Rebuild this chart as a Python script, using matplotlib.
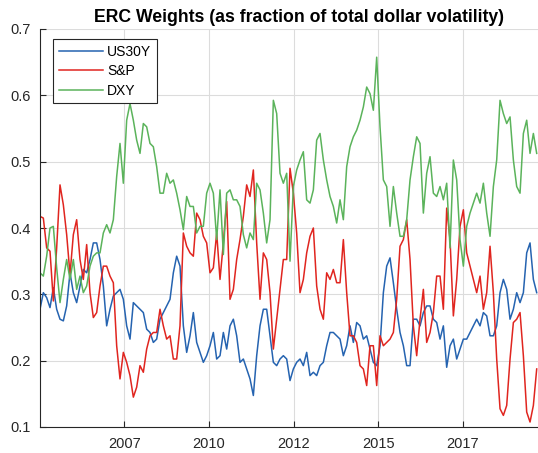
import numpy as np
import pandas as pd
import matplotlib
matplotlib.use('Agg')
import matplotlib.pyplot as plt
import matplotlib.dates as mdates

plt.rcParams['font.family'] = ['Liberation Sans', 'DejaVu Sans']

# sampling dates (roughly every 36 days)
dates = pd.date_range('2005-02-01', periods=150, freq='36D')

us30y = [0.2775, 0.3025, 0.295, 0.28, 0.31, 0.2775, 0.2625, 0.26, 0.2825, 0.3325, 0.3025,
         0.2875, 0.3125, 0.3375, 0.3325, 0.3525, 0.3775, 0.3775, 0.3525, 0.3125, 0.2525, 0.2775, 0.2975, 0.3025, 0.3075, 0.2925, 0.2525,
         0.2325, 0.2875, 0.2825, 0.2775, 0.2725, 0.2475, 0.2425, 0.2275, 0.2325, 0.2625, 0.2725, 0.2825, 0.2925, 0.3325, 0.3575, 0.3425, 0.2525, 0.2125, 0.2375, 0.2725, 0.2275, 0.2125, 0.1975, 0.2075,
         0.2225, 0.2425, 0.2025, 0.2075, 0.2425, 0.2175, 0.2525, 0.2625, 0.2375, 0.1975, 0.2025, 0.1875, 0.1725, 0.1475, 0.2075, 0.2525, 0.2775, 0.2775, 0.2375, 0.1975, 0.1925, 0.2025, 0.2075, 0.2025,
         0.17, 0.1875, 0.1975, 0.2025, 0.1925, 0.2125, 0.1775, 0.1825, 0.1775, 0.1925, 0.1975, 0.2225, 0.2425, 0.2425, 0.2375, 0.2325, 0.2075, 0.2225, 0.2525, 0.2275, 0.2575, 0.2525, 0.2325, 0.2375,
         0.2175, 0.1975, 0.1925, 0.2225, 0.3025, 0.3425, 0.355, 0.3175, 0.2775, 0.2425, 0.2225, 0.1925, 0.1925, 0.2625, 0.2625, 0.2525, 0.2725, 0.2825, 0.2825, 0.2625, 0.2575, 0.2325, 0.2525, 0.19,
         0.2225, 0.2325, 0.2025, 0.2175, 0.2325, 0.2325, 0.2425, 0.2525, 0.2625, 0.2525, 0.2725, 0.2675, 0.2375, 0.2375, 0.2525, 0.3025, 0.3225, 0.3075, 0.2625, 0.2775, 0.3025, 0.2875, 0.3025, 0.3625, 0.3775, 0.3225, 0.3025]

snp = [0.4175, 0.415, 0.37, 0.365, 0.29, 0.37, 0.465, 0.435, 0.39, 0.33, 0.39,
       0.4125, 0.3525, 0.3225, 0.375, 0.3025, 0.265, 0.2725, 0.3125, 0.3425, 0.3425, 0.3275, 0.3175, 0.2225, 0.1725, 0.2125, 0.1975,
       0.1775, 0.145, 0.16, 0.1925, 0.1825, 0.2175, 0.2375, 0.2425, 0.2425, 0.2775, 0.2525, 0.2325, 0.2375, 0.2025, 0.2025, 0.2525, 0.3925, 0.3725, 0.3625, 0.3575, 0.4225, 0.4125, 0.3875, 0.3775,
       0.3325, 0.34, 0.3925, 0.3225, 0.3775, 0.44, 0.2925, 0.3075, 0.3525, 0.3825, 0.4175, 0.465, 0.4475, 0.4875, 0.3775, 0.2925, 0.3625, 0.3525, 0.3025, 0.2175, 0.2625, 0.3075, 0.3525, 0.3525,
       0.49, 0.4525, 0.3925, 0.3025, 0.3225, 0.3625, 0.3875, 0.40, 0.3125, 0.2775, 0.2625, 0.3325, 0.3225, 0.3375, 0.3175, 0.3175, 0.3825, 0.3025, 0.2375, 0.2375, 0.2275, 0.1925, 0.1875, 0.1625,
       0.2225, 0.2225, 0.1625, 0.2375, 0.2225, 0.2275, 0.2325, 0.2425, 0.2925, 0.3725, 0.3825, 0.4125, 0.3525, 0.2525, 0.2075, 0.2625, 0.3075, 0.2275, 0.2425, 0.2725, 0.3275, 0.3275, 0.2775, 0.43,
       0.3825, 0.2675, 0.3225, 0.4025, 0.4275, 0.3625, 0.3425, 0.3225, 0.3025, 0.3275, 0.2775, 0.3025, 0.3725, 0.3025, 0.2025, 0.1275, 0.1175, 0.1325, 0.2025, 0.2575, 0.2625, 0.2725, 0.2075, 0.1225, 0.1075, 0.1325, 0.1875]

dxy = [0.3325, 0.3275, 0.3575, 0.40, 0.4025, 0.34, 0.2875, 0.3225, 0.3525, 0.3225, 0.3525,
       0.3075, 0.3275, 0.3025, 0.3125, 0.3425, 0.3575, 0.3625, 0.3625, 0.3925, 0.405, 0.3925, 0.4125, 0.4775, 0.5275, 0.4675, 0.5625,
       0.5875, 0.5625, 0.5325, 0.5125, 0.5575, 0.5525, 0.5275, 0.5225, 0.4925, 0.4525, 0.4525, 0.4825, 0.4675, 0.4725, 0.4525, 0.4275, 0.3975, 0.4475, 0.4325, 0.4325, 0.3925, 0.4025, 0.4025, 0.4525,
       0.4675, 0.4525, 0.3825, 0.4575, 0.36, 0.4525, 0.4575, 0.4425, 0.4425, 0.4325, 0.39, 0.37, 0.3925, 0.3825, 0.4675, 0.4575, 0.4225, 0.3775, 0.4125, 0.5925, 0.5725, 0.4825, 0.4675, 0.4825,
       0.35, 0.4625, 0.4875, 0.5025, 0.515, 0.4425, 0.4375, 0.4575, 0.5325, 0.5425, 0.5025, 0.4725, 0.4475, 0.4325, 0.4075, 0.4425, 0.4125, 0.4925, 0.5225, 0.5375, 0.5475, 0.5625, 0.5825, 0.6125,
       0.6025, 0.5775, 0.6575, 0.5525, 0.4725, 0.4625, 0.4025, 0.4625, 0.4225, 0.3875, 0.3875, 0.4125, 0.4725, 0.5075, 0.5375, 0.5275, 0.4225, 0.4825, 0.5075, 0.4525, 0.4475, 0.4625, 0.4425, 0.4675,
       0.37, 0.5025, 0.4725, 0.3825, 0.3425, 0.4025, 0.4225, 0.4375, 0.4525, 0.4375, 0.4675, 0.4225, 0.3875, 0.4625, 0.5025, 0.5925, 0.5725, 0.5575, 0.5675, 0.5025, 0.4625, 0.4525, 0.5425, 0.5625, 0.5125, 0.5425, 0.5125]

series_names = ['US30Y', 'S&P', 'DXY']
tick_dates = pd.to_datetime(['2007-08-01', '2010-02-01', '2012-08-01', '2015-02-01', '2017-08-01'])

colors = ['#2563b0', '#e0251f', '#5bb35b']

fig = plt.figure(figsize=(5.38, 4.53), dpi=100)
# axes runs a bit past the right edge of the picture (cropped like the original)
ax = fig.add_axes([40 / 538, 26 / 453, 518 / 538, 398 / 453])

for vals, name, c in zip([us30y, snp, dxy], series_names, colors):
    ax.plot(dates, vals, color=c, lw=1.1, label=name)

ax.set_ylim(0.1, 0.7)
ax.set_yticks(np.arange(0.1, 0.71, 0.1))
ax.set_yticklabels(['%.1f' % v for v in np.arange(0.1, 0.71, 0.1)])
ax.set_xlim(dates[0], dates[0] + pd.Timedelta(days=5594))
ax.set_xticks(tick_dates)
ax.xaxis.set_major_formatter(mdates.DateFormatter('%Y'))

ax.grid(True, color='#dcdcdc', lw=0.8)
ax.set_axisbelow(True)
for s in ['top', 'right']:
    ax.spines[s].set_visible(False)
for s in ['left', 'bottom']:
    ax.spines[s].set_color('#262626')
    ax.spines[s].set_linewidth(0.8)
ax.tick_params(direction='in', length=4, width=0.8, colors='#262626', labelsize=10.5, pad=7)

ax.set_title('ERC Weights (as fraction of total dollar volatility)', fontsize=12.7, fontweight='bold', pad=5)

leg = ax.legend(loc='upper left', bbox_to_anchor=(0.025, 0.975), borderaxespad=0, fontsize=10,
                fancybox=False, edgecolor='#262626', framealpha=1, handlelength=3.2,
                handletextpad=0.3, labelspacing=0.4, borderpad=0.4)
leg.get_frame().set_linewidth(0.8)

fig.savefig('out.png', dpi=100)
